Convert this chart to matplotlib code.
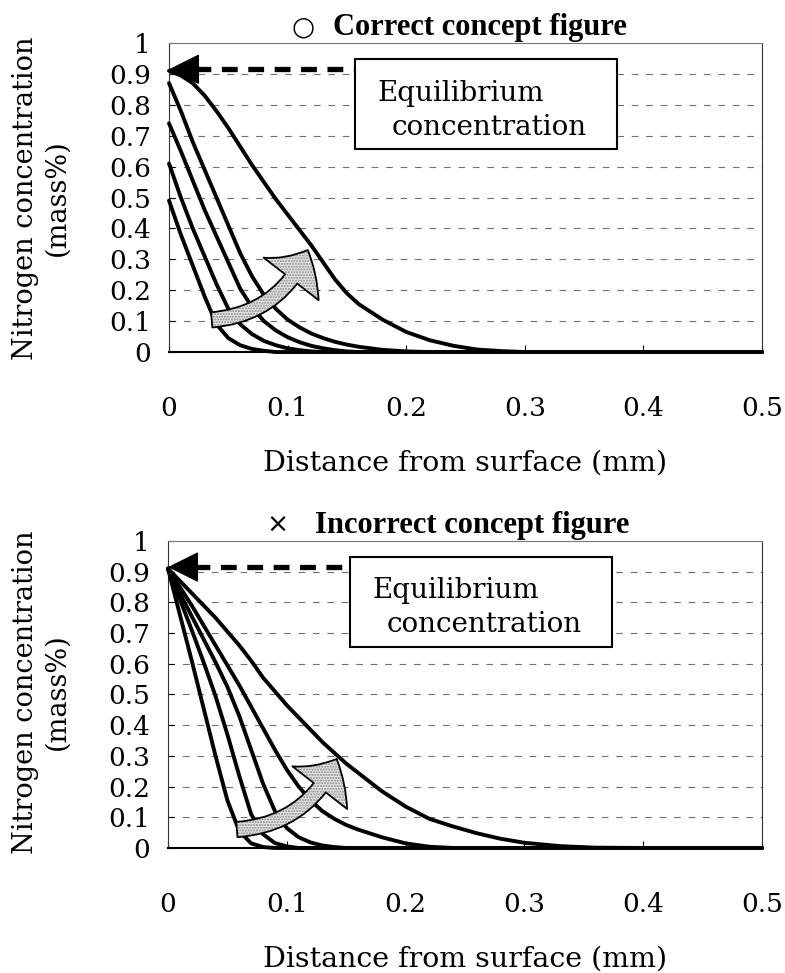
import matplotlib

matplotlib.use("Agg")
import matplotlib.pyplot as plt
from matplotlib.patches import FancyArrowPatch, Rectangle

plt.rcParams["font.family"] = ["DejaVu Serif", "DejaVu Sans"]

# depth below the surface (mm), shared by every profile
depth = [0, .01, .02, .03, .04, .05, .06, .07, .08, .09, .10, .11, .12, .13, .14,
         .15, .16, .18, .20, .22, .24, .26, .28, .30, .33, .36, .40, .50]

# correct concept: surface concentration rises with time (mass%)
correct_t1 = [0.49, 0.38, 0.28, 0.18, 0.09, 0.045, 0.022, 0.01, 0.004, 0, 0, 0, 0, 0,
              0, 0, 0, 0, 0, 0, 0, 0, 0, 0, 0, 0, 0, 0]
correct_t2 = [0.61, 0.50, 0.40, 0.31, 0.22, 0.14, 0.09, 0.058, 0.036, 0.022, 0.012, 0.006,
              0.002, 0, 0, 0, 0, 0, 0, 0, 0, 0, 0, 0, 0, 0, 0, 0]
correct_t3 = [0.74, 0.65, 0.555, 0.46, 0.375, 0.29, 0.205, 0.145, 0.10, 0.07, 0.048, 0.032,
              0.02, 0.012, 0.006, 0.002, 0, 0, 0, 0, 0, 0, 0, 0, 0, 0, 0, 0]
correct_t4 = [0.87, 0.78, 0.68, 0.59, 0.50, 0.41, 0.32, 0.245, 0.185, 0.14, 0.105, 0.08,
              0.06, 0.045, 0.033, 0.024, 0.017, 0.007, 0.002, 0, 0, 0, 0, 0, 0, 0, 0, 0]
correct_t5 = [0.91, 0.895, 0.87, 0.83, 0.78, 0.725, 0.665, 0.605, 0.55, 0.495, 0.445, 0.395,
              0.345, 0.29, 0.235, 0.19, 0.155, 0.105, 0.065, 0.038, 0.02, 0.008, 0.003,
              0, 0, 0, 0, 0]

# incorrect concept: surface pinned at equilibrium from the start (mass%)
incorrect_t1 = [0.91, 0.76, 0.61, 0.455, 0.30, 0.155, 0.055, 0.015, 0.003, 0, 0, 0, 0, 0,
                0, 0, 0, 0, 0, 0, 0, 0, 0, 0, 0, 0, 0, 0]
incorrect_t2 = [0.91, 0.81, 0.71, 0.605, 0.495, 0.37, 0.235, 0.11, 0.045, 0.016, 0.005, 0,
                0, 0, 0, 0, 0, 0, 0, 0, 0, 0, 0, 0, 0, 0, 0, 0]
incorrect_t3 = [0.91, 0.83, 0.755, 0.68, 0.605, 0.525, 0.43, 0.32, 0.21, 0.12, 0.065, 0.035,
                0.018, 0.008, 0.003, 0, 0, 0, 0, 0, 0, 0, 0, 0, 0, 0, 0, 0]
incorrect_t4 = [0.91, 0.85, 0.79, 0.725, 0.66, 0.595, 0.53, 0.46, 0.39, 0.32, 0.255, 0.20,
                0.155, 0.12, 0.095, 0.075, 0.06, 0.035, 0.015, 0.004, 0, 0, 0, 0, 0, 0, 0, 0]
incorrect_t5 = [0.91, 0.87, 0.83, 0.79, 0.75, 0.705, 0.66, 0.61, 0.555, 0.51, 0.465, 0.425,
                0.385, 0.345, 0.31, 0.275, 0.245, 0.185, 0.135, 0.095, 0.07, 0.048, 0.03,
                0.017, 0.006, 0.001, 0, 0]

equilibrium = 0.915
x_ticks = [0, 0.1, 0.2, 0.3, 0.4, 0.5]
y_ticks = [0, 0.1, 0.2, 0.3, 0.4, 0.5, 0.6, 0.7, 0.8, 0.9, 1.0]
y_ticklabels = ["0", "0.1", "0.2", "0.3", "0.4", "0.5", "0.6", "0.7", "0.8", "0.9", "1"]

FS = 19


def style_axis(ax, mark, title, mark_x, title_x):
    ax.set_xlim(0, 0.5)
    ax.set_ylim(0, 1)
    ax.set_xticks(x_ticks)
    ax.set_xticklabels([f"{v:g}" for v in x_ticks])
    ax.set_yticks(y_ticks)
    ax.set_yticklabels(y_ticklabels)
    ax.tick_params(axis="x", direction="in", length=5, pad=32, labelsize=FS)
    ax.tick_params(axis="y", direction="in", length=4, pad=13, labelsize=FS)
    for v in y_ticks[1:-1]:
        ax.axhline(v, color="#707070", lw=0.8, ls=(0, (6, 7)), zorder=1)
    ax.spines["top"].set_color("#777777")
    ax.spines["right"].set_color("#333333")
    ax.spines["left"].set_color("#333333")
    ax.spines["bottom"].set_linewidth(1.5)
    ax.set_xlabel("Distance from surface (mm)", fontsize=20.5, labelpad=20)
    ax.text(title_x, 1.027, title, transform=ax.transAxes, ha="center", va="baseline",
            fontsize=22, fontweight="bold", family=["Liberation Serif", "DejaVu Sans"])
    ax.text(mark_x, 1.027, mark, transform=ax.transAxes, ha="center", va="baseline",
            fontsize=19, family=["DejaVu Sans"])


def draw_profiles(ax, profiles):
    for values in profiles:
        ax.plot(depth, values, color="black", lw=2.8, solid_joinstyle="round",
                solid_capstyle="round", clip_on=False, zorder=4)


def draw_equilibrium(ax, box_x0, box_x1, box_y0, box_y1):
    ax.plot([0.022, box_x0], [equilibrium, equilibrium], color="black", lw=3.8,
            ls=(0, (3, 2)), zorder=5)
    ax.annotate("", xy=(0, equilibrium), xytext=(0.03, equilibrium),
                arrowprops=dict(arrowstyle="-|>", mutation_scale=50, color="black",
                                lw=1, shrinkA=0, shrinkB=0), zorder=6)
    ax.add_patch(Rectangle((box_x0, box_y0), box_x1 - box_x0, box_y1 - box_y0,
                           facecolor="white", edgecolor="black", lw=1.5, zorder=5))
    ax.text(box_x0 + 0.019, box_y1 - 0.11, "Equilibrium", fontsize=20,
            ha="left", va="center", zorder=6)
    ax.text(box_x0 + 0.031, box_y1 - 0.22, "concentration", fontsize=20,
            ha="left", va="center", zorder=6)


def draw_time_arrow(ax, tail, tip):
    style = "simple,head_length=24,head_width=50,tail_width=11"
    shade = FancyArrowPatch(tail, tip, arrowstyle=style, mutation_scale=1,
                            connectionstyle="arc3,rad=0.3", shrinkA=0, shrinkB=0,
                            facecolor="#e4e4e4", edgecolor="#8a8a8a", hatch="......",
                            lw=0, zorder=7)
    outline = FancyArrowPatch(tail, tip, arrowstyle=style, mutation_scale=1,
                              connectionstyle="arc3,rad=0.3", shrinkA=0, shrinkB=0,
                              facecolor="none", edgecolor="black", lw=1.3, zorder=8)
    ax.add_patch(shade)
    ax.add_patch(outline)


fig = plt.figure(figsize=(7.85, 9.73), dpi=100)
ax_top = fig.add_axes([0.2153, 0.6382, 0.7554, 0.3176])
ax_bot = fig.add_axes([0.2140, 0.1285, 0.7566, 0.3155])

style_axis(ax_top, "○", "Correct concept figure", 0.226, 0.525)
draw_profiles(ax_top, [correct_t1, correct_t2, correct_t3, correct_t4, correct_t5])
draw_equilibrium(ax_top, 0.157, 0.378, 0.657, 0.948)
draw_time_arrow(ax_top, (0.036, 0.104), (0.117, 0.33))

style_axis(ax_bot, "×", "Incorrect concept figure", 0.185, 0.513)
draw_profiles(ax_bot, [incorrect_t1, incorrect_t2, incorrect_t3, incorrect_t4, incorrect_t5])
draw_equilibrium(ax_bot, 0.153, 0.374, 0.654, 0.948)
draw_time_arrow(ax_bot, (0.058, 0.06), (0.142, 0.29))

for yc in (1 - 198 / 973, 1 - 692 / 973):
    fig.text(41 / 785, yc, "Nitrogen concentration\n(mass%)", rotation=90,
             ha="center", va="center", multialignment="center", fontsize=19.5,
             linespacing=1.22)

fig.savefig("out.png", dpi=100)
plt.close(fig)
